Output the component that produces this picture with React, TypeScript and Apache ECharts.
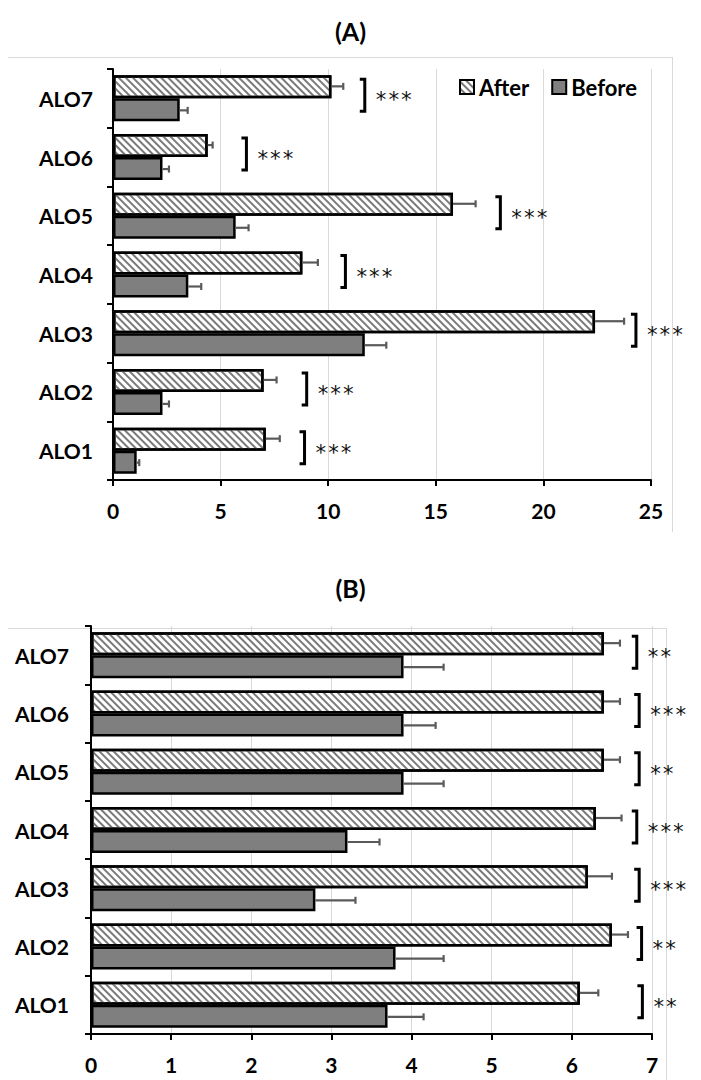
import React, { useEffect, useRef } from 'react';
import * as echarts from 'echarts';

const categories = ['ALO1', 'ALO2', 'ALO3', 'ALO4', 'ALO5', 'ALO6', 'ALO7'];

// Panel A
const afterA = [7.1, 7.0, 22.4, 8.8, 15.8, 4.4, 10.15];
const afterErrA = [0.65, 0.6, 1.35, 0.72, 1.05, 0.23, 0.55];
const beforeA = [1.1, 2.3, 11.7, 3.5, 5.7, 2.3, 3.1];
const beforeErrA = [0.12, 0.3, 1.0, 0.6, 0.6, 0.3, 0.37];
const bracketA = [8.9, 9.0, 24.3, 10.8, 18.0, 6.2, 11.7];
const starsA = ['***', '***', '***', '***', '***', '***', '***'];
const ticksA = { min: 0, max: 25, interval: 5 };

// Panel B
const afterB = [6.1, 6.5, 6.2, 6.3, 6.4, 6.4, 6.4];
const afterErrB = [0.23, 0.2, 0.3, 0.32, 0.2, 0.2, 0.2];
const beforeB = [3.7, 3.8, 2.8, 3.2, 3.9, 3.9, 3.9];
const beforeErrB = [0.45, 0.6, 0.5, 0.4, 0.5, 0.4, 0.5];
const bracketB = [6.88, 6.87, 6.84, 6.81, 6.84, 6.84, 6.81];
const starsB = ['**', '**', '***', '***', '**', '***', '**'];
const ticksB = { min: 0, max: 7, interval: 1 };

const BAR = 23;
const FONT = 'Lato';

const hatch = {
  symbol: 'rect',
  symbolSize: 1,
  color: '#7a7a7a',
  dashArrayX: [1, 0],
  dashArrayY: [1.4, 2.6],
  rotation: Math.PI / 4,
};

function errRender(sign: number) {
  return (params: any, api: any) => {
    const v = api.value(0);
    const e = api.value(1);
    const c = api.value(2);
    const p0 = api.coord([v, c]);
    const p1 = api.coord([v + e, c]);
    const y = p0[1] + sign * (BAR + 1) / 2;
    const st = { stroke: '#5a5a5a', lineWidth: 2.2 };
    return {
      type: 'group',
      children: [
        { type: 'line', shape: { x1: p0[0], y1: y, x2: p1[0], y2: y }, style: st },
        { type: 'line', shape: { x1: p1[0], y1: y - 3.5, x2: p1[0], y2: y + 3.5 }, style: st },
      ],
    };
  };
}

function bracketRender(stars: string[]) {
  return (params: any, api: any) => {
    const bx = api.value(0);
    const c = api.value(1);
    const p = api.coord([bx, c]);
    const y1 = p[1] - 19;
    const y2 = p[1] + 13;
    return {
      type: 'group',
      children: [
        {
          type: 'polyline',
          shape: { points: [[p[0] - 5, y1], [p[0], y1], [p[0], y2], [p[0] - 5, y2]] },
          style: { stroke: '#000', lineWidth: 3, fill: null },
        },
        {
          type: 'text',
          x: p[0] + 10,
          y: p[1] + 2,
          style: {
            text: stars[params.dataIndex],
            font: '21px "DejaVu Sans Mono"',
            fill: '#111',
            align: 'left',
            verticalAlign: 'middle',
          },
        },
      ],
    };
  };
}

function buildSeries(idx: number, after: number[], afterErr: number[], before: number[], beforeErr: number[], bracket: number[], stars: string[]) {
  return [
    {
      name: 'After',
      type: 'bar',
      xAxisIndex: idx,
      yAxisIndex: idx,
      data: after,
      barWidth: BAR,
      barGap: '0%',
      itemStyle: { color: '#ffffff', borderColor: '#000', borderWidth: 2.5, decal: hatch },
    },
    {
      name: 'Before',
      type: 'bar',
      xAxisIndex: idx,
      yAxisIndex: idx,
      data: before,
      barWidth: BAR,
      barGap: '0%',
      itemStyle: { color: '#7f7f7f', borderColor: '#000', borderWidth: 2.5 },
    },
    {
      type: 'custom',
      xAxisIndex: idx,
      yAxisIndex: idx,
      renderItem: errRender(-1),
      data: after.map((v, i) => [v, afterErr[i], i]),
      encode: { x: 0, y: 2 },
      clip: false,
      z: 5,
    },
    {
      type: 'custom',
      xAxisIndex: idx,
      yAxisIndex: idx,
      renderItem: errRender(1),
      data: before.map((v, i) => [v, beforeErr[i], i]),
      encode: { x: 0, y: 2 },
      clip: false,
      z: 5,
    },
    {
      type: 'custom',
      xAxisIndex: idx,
      yAxisIndex: idx,
      renderItem: bracketRender(stars),
      data: bracket.map((v, i) => [v, i]),
      encode: { x: 0, y: 1 },
      clip: false,
      z: 6,
    },
  ];
}

function xAxis(idx: number, t: { min: number; max: number; interval: number }) {
  return {
    type: 'value',
    gridIndex: idx,
    min: t.min,
    max: t.max,
    interval: t.interval,
    axisLine: { show: true, lineStyle: { color: '#000', width: 2 } },
    axisTick: { show: true, length: 6, lineStyle: { color: '#000', width: 2 } },
    splitLine: { show: true, lineStyle: { color: '#d9d9d9', width: 1 } },
    axisLabel: { fontFamily: FONT, fontWeight: 'bold', fontSize: 21, color: '#000', margin: 20 },
  };
}

function yAxis(idx: number, margin: number) {
  return {
    type: 'category',
    gridIndex: idx,
    data: categories,
    axisLine: { show: true, lineStyle: { color: '#000', width: 2 } },
    axisTick: { show: true, length: 6, lineStyle: { color: '#000', width: 2 } },
    axisLabel: { fontFamily: FONT, fontWeight: 'bold', fontSize: 21, color: '#000', margin },
    splitLine: { show: false },
  };
}

export default function App() {
  const ref = useRef<HTMLDivElement>(null);
  useEffect(() => {
    document.body.style.margin = '0';
    const chart = echarts.init(ref.current!, null, { renderer: 'svg' });
    const frame = { stroke: '#d9d9d9', lineWidth: 1 };
    chart.setOption({
      animation: false,
      backgroundColor: '#fff',
      title: [
        { text: '(A)', left: 'center', top: 18, padding: 0, textStyle: { fontFamily: FONT, fontWeight: 'bold', fontSize: 25, color: '#000' } },
        { text: '(B)', left: 'center', top: 575, padding: 0, textStyle: { fontFamily: FONT, fontWeight: 'bold', fontSize: 25, color: '#000' } },
      ],
      legend: {
        data: ['After', 'Before'],
        left: 459,
        top: 76,
        padding: 0,
        itemWidth: 14,
        itemHeight: 14,
        itemGap: 22,
        icon: 'rect',
        textStyle: { fontFamily: FONT, fontWeight: 'bold', fontSize: 22, color: '#000' },
      },
      graphic: [
        { type: 'line', shape: { x1: 8, y1: 57.5, x2: 673, y2: 57.5 }, style: frame },
        { type: 'line', shape: { x1: 672.5, y1: 57, x2: 672.5, y2: 532 }, style: frame },
        { type: 'line', shape: { x1: 8, y1: 628.5, x2: 667, y2: 628.5 }, style: frame },
        { type: 'line', shape: { x1: 666.5, y1: 628, x2: 666.5, y2: 1080 }, style: frame },
      ],
      grid: [
        { left: 113, right: 50, top: 69, height: 411 },
        { left: 91, right: 49, top: 626, height: 408 },
      ],
      xAxis: [xAxis(0, ticksA), xAxis(1, ticksB)],
      yAxis: [yAxis(0, 20), yAxis(1, 22)],
      series: [
        ...buildSeries(0, afterA, afterErrA, beforeA, beforeErrA, bracketA, starsA),
        ...buildSeries(1, afterB, afterErrB, beforeB, beforeErrB, bracketB, starsB),
      ],
    });
    return () => chart.dispose();
  }, []);
  return <div ref={ref} style={{ width: 701, height: 1080 }} />;
}
